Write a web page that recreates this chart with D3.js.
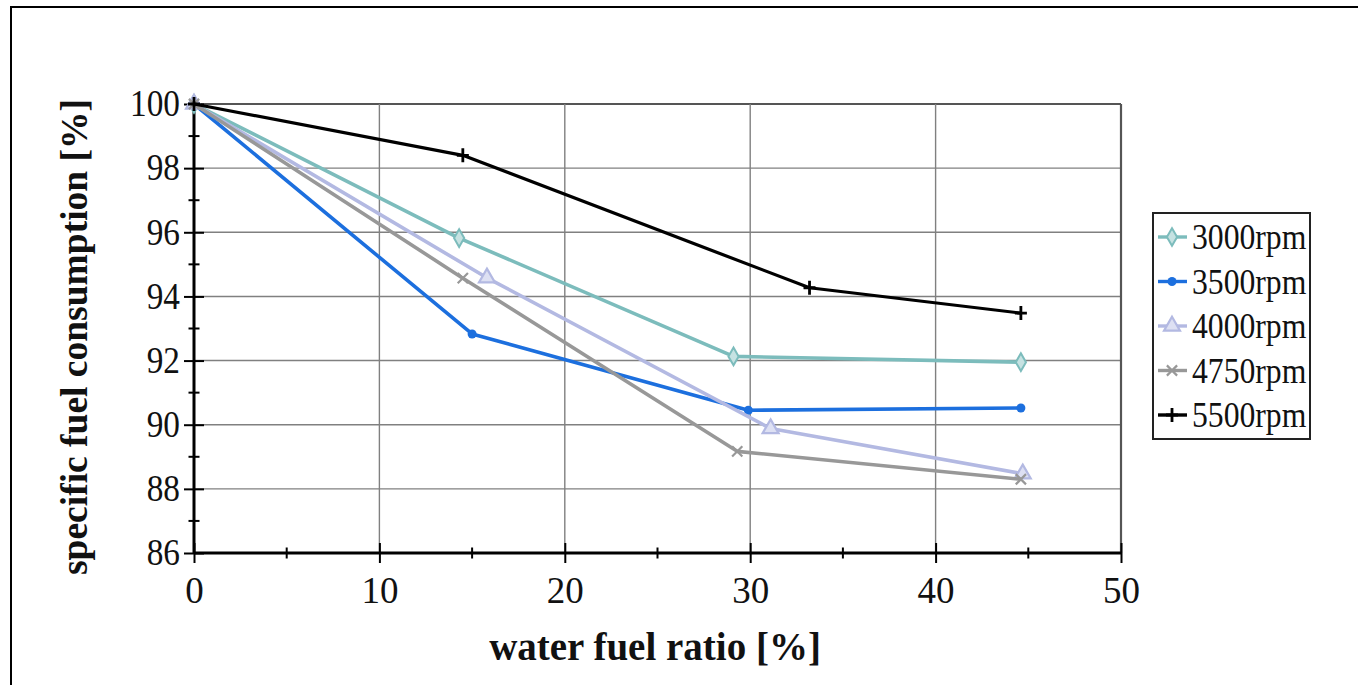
<!DOCTYPE html>
<html><head><meta charset="utf-8">
<script src="https://cdn.jsdelivr.net/npm/d3@7"></script>
<style>body{margin:0;background:#fff}svg{display:block}text{font-family:"Liberation Serif","Times New Roman",serif}</style>
</head><body><svg id="c" width="1358" height="685"></svg>
<script>
const seriesNames = ["3000rpm","3500rpm","4000rpm","4750rpm","5500rpm"];
const x3000 = [0, 14.3, 29.1, 44.6];
const y3000 = [100, 95.82, 92.13, 91.95];
const x3500 = [0, 15.0, 29.9, 44.6];
const y3500 = [100, 92.83, 90.45, 90.52];
const x4000 = [0, 15.8, 31.1, 44.7];
const y4000 = [100, 94.58, 89.88, 88.47];
const x4750 = [0, 14.5, 29.3, 44.6];
const y4750 = [100, 94.57, 89.17, 88.3];
const x5500 = [0, 14.5, 33.2, 44.6];
const y5500 = [100, 98.4, 94.27, 93.48];
const xTicks = [0,10,20,30,40,50];
const yTicks = [86,88,90,92,94,96,98,100];
const xMinor = [5,15,25,35,45];
const yMinor = [87,89,91,93,95,97,99];
const colors = ["#7cbcbc","#1c6fde","#b3b9e2","#989898","#000000"];
const markers = ["diamond","circle","triangle","star","plus"];
const allX = [x3000,x3500,x4000,x4750,x5500];
const allY = [y3000,y3500,y4000,y4750,y5500];

const svg = d3.select("#c");
const L=194,R=1121,T=104,B=553;
const x = d3.scaleLinear().domain([0,50]).range([L,R]);
const y = d3.scaleLinear().domain([86,100]).range([B,T]);

svg.append("rect").attr("x",11).attr("y",7).attr("width",1400).attr("height",700)
  .attr("fill","none").attr("stroke","#000").attr("stroke-width",2);

// grid
const g = svg.append("g");
g.selectAll(".gy").data(yTicks.filter(d=>d>86)).join("line")
  .attr("x1",L).attr("x2",R).attr("y1",d=>y(d)).attr("y2",d=>y(d))
  .attr("stroke",d=>d===100?"#555":"#808080").attr("stroke-width",d=>d===100?2.2:1.4);
g.selectAll(".gx").data(xTicks.filter(d=>d>0)).join("line")
  .attr("y1",T).attr("y2",B).attr("x1",d=>x(d)).attr("x2",d=>x(d))
  .attr("stroke",d=>d===50?"#555":"#808080").attr("stroke-width",d=>d===50?2.2:1.4);

// axes
const xa = svg.append("g").attr("transform",`translate(0,${B})`)
  .call(d3.axisBottom(x).tickValues(xTicks).tickSize(10).tickPadding(14).tickFormat(d3.format("d")));
xa.select(".domain").remove();
xa.selectAll(".tick line").attr("y1",-10).attr("y2",10).attr("stroke","#000").attr("stroke-width",2);
xa.selectAll(".tick text").attr("font-size",37).attr("fill","#111").attr("font-family","Liberation Serif");
svg.append("g").selectAll("line").data(xMinor).join("line")
  .attr("x1",d=>x(d)).attr("x2",d=>x(d)).attr("y1",B-5.5).attr("y2",B+5.5).attr("stroke","#000").attr("stroke-width",2);

const ya = svg.append("g").attr("transform",`translate(${L},0)`)
  .call(d3.axisLeft(y).tickValues(yTicks).tickSize(10).tickPadding(14).tickFormat(d3.format("d")));
ya.select(".domain").remove();
ya.selectAll(".tick line").attr("x1",-10).attr("x2",10).attr("stroke","#000").attr("stroke-width",2);
ya.selectAll(".tick text").attr("font-size",37).attr("fill","#111").attr("font-family","Liberation Serif")
  .attr("x",-14/0.9).attr("transform","scale(0.9,1)");
svg.append("g").selectAll("line").data(yMinor).join("line")
  .attr("y1",d=>y(d)).attr("y2",d=>y(d)).attr("x1",L-5.5).attr("x2",L+5.5).attr("stroke","#000").attr("stroke-width",2);

svg.append("line").attr("x1",L).attr("x2",R+1).attr("y1",B).attr("y2",B).attr("stroke","#000").attr("stroke-width",3);
svg.append("line").attr("x1",L).attr("x2",L).attr("y1",T-1).attr("y2",B+1).attr("stroke","#000").attr("stroke-width",3);

// titles
svg.append("text").attr("x",655).attr("y",660).attr("text-anchor","middle")
  .attr("font-size",39).attr("font-weight","bold").attr("fill","#111").text("water fuel ratio [%]");
svg.append("text").attr("transform","translate(87,337) rotate(-90)").attr("text-anchor","middle")
  .attr("font-size",37.5).attr("font-weight","bold").attr("fill","#111").text("specific fuel consumption [%]");

function drawMarker(sel, type, color, cx, cy){
  if(type==="diamond"){
    sel.append("path").attr("d",d3.symbol(d3.symbolDiamond,90)()).attr("transform",`translate(${cx},${cy})`)
      .attr("fill","#c6e2e2").attr("stroke",color).attr("stroke-width",2);
  } else if(type==="circle"){
    sel.append("circle").attr("cx",cx).attr("cy",cy).attr("r",4.5).attr("fill",color);
  } else if(type==="triangle"){
    sel.append("path").attr("d",d3.symbol(d3.symbolTriangle,110)()).attr("transform",`translate(${cx},${cy})`)
      .attr("fill","#dde0f3").attr("stroke",color).attr("stroke-width",2.2);
  } else if(type==="star"){
    sel.append("path").attr("d",d3.symbol(d3.symbolX,70)()).attr("transform",`translate(${cx},${cy})`)
      .attr("fill","none").attr("stroke",color).attr("stroke-width",2.2);
  } else {
    sel.append("path").attr("d",`M${cx-6},${cy}H${cx+6}M${cx},${cy-7}V${cy+7}`)
      .attr("stroke",color).attr("stroke-width",2.8);
  }
}

const line = d3.line().x(d=>x(d[0])).y(d=>y(d[1]));
seriesNames.forEach((n,i)=>{
  const pts = allX[i].map((v,j)=>[v,allY[i][j]]);
  const sg = svg.append("g");
  sg.append("path").attr("d",line(pts)).attr("fill","none").attr("stroke",colors[i])
    .attr("stroke-width",i===4?3.2:3.6).attr("stroke-linejoin","round");
  pts.forEach(p=>drawMarker(sg,markers[i],colors[i],x(p[0]),y(p[1])));
});

// legend
const lg = svg.append("g");
lg.append("rect").attr("x",1153).attr("y",213).attr("width",157).attr("height",226)
  .attr("fill","#fff").attr("stroke","#222").attr("stroke-width",2);
seriesNames.forEach((n,i)=>{
  const cy = 237 + i*44.5;
  lg.append("line").attr("x1",1158).attr("x2",1187).attr("y1",cy).attr("y2",cy)
    .attr("stroke",colors[i]).attr("stroke-width",3.4);
  drawMarker(lg,markers[i],colors[i],1172,cy);
  lg.append("text").attr("transform",`translate(1192,${cy+12}) scale(0.88,1)`)
    .attr("font-size",36).attr("fill","#111").text(n);
});
</script></body></html>
